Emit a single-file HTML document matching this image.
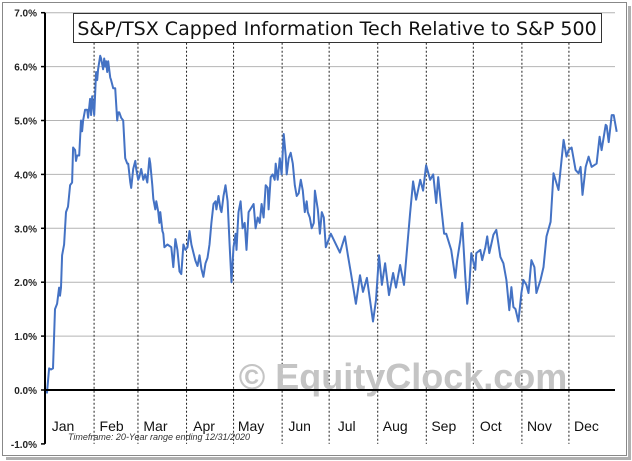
<!DOCTYPE html>
<html><head><meta charset="utf-8"><style>
body{margin:0;background:#fff;}
svg{display:block;font-family:"Liberation Sans",sans-serif;}
</style></head><body>
<svg id="chart" width="632" height="461">
<rect x="628" y="6" width="3" height="452" fill="#b0b0b0"/>
<rect x="6" y="457" width="625" height="3" fill="#b0b0b0"/>
<rect x="2.5" y="2.5" width="624" height="453" fill="#fff" stroke="#888"/>
<g id="grid"></g>
<g id="months"></g>
<text x="403" y="389" text-anchor="middle" font-size="36" font-weight="bold" fill="#c4c4c4">© EquityClock.com</text>
<g id="series"></g>
<g id="axes"></g>
<rect x="73.5" y="13.5" width="528" height="29" fill="#fff" stroke="#333"/>
<text x="337" y="35" text-anchor="middle" font-size="19" font-family="DejaVu Sans, sans-serif" fill="#111">S&amp;P/TSX Capped Information Tech Relative to S&amp;P 500</text>
<text x="68" y="440" font-size="9" font-style="italic" fill="#333">Timeframe: 20-Year range ending 12/31/2020</text>
</svg>
<script>
const yTicks=[-1,0,1,2,3,4,5,6,7];
const yTickLabels=["-1.0%","0.0%","1.0%","2.0%","3.0%","4.0%","5.0%","6.0%","7.0%"];
const monthNames=["Jan","Feb","Mar","Apr","May","Jun","Jul","Aug","Sep","Oct","Nov","Dec"];
const monthStarts=[0,31,59,90,120,151,181,212,243,273,304,334,365];
const days=[0,1.3,2.6,3.8,5.1,6.4,7.7,9.0,9.6,10.2,10.9,12.2,13.4,14.7,16.0,17.3,17.9,19.2,19.8,20.5,21.8,23.0,23.7,24.3,25.6,26.9,27.5,28.8,29.4,30.1,31.4,32.6,33.3,33.9,35.2,35.8,37.1,37.8,38.4,39.0,39.7,40.3,41.6,42.2,43.5,44.8,46.1,46.7,47.4,48.6,49.9,51.2,52.5,53.1,54.4,55.0,56.3,57.6,58.2,59.5,60.2,61.4,62.7,64.0,65.3,66.6,67.2,68.5,69.1,70.4,71.0,72.3,73.0,73.6,74.9,75.5,76.2,78.1,80.6,81.9,83.2,84.5,85.8,87.0,88.3,89.6,90.9,92.2,93.4,94.7,96.0,97.3,98.6,99.8,101.1,102.4,103.7,105.0,106.2,107.5,108.8,109.4,110.7,112.0,112.6,113.9,115.2,116.5,117.8,119.0,120.3,121.6,122.2,122.9,123.5,124.8,126.1,127.4,128.6,129.9,133.1,134.4,135.7,137.0,138.2,139.5,140.8,142.1,142.7,144.0,145.3,146.6,147.2,148.5,149.8,151.0,152.3,153.6,154.2,155.5,156.8,158.1,159.4,160.6,161.9,163.2,164.5,165.8,167.0,167.7,169.0,170.2,171.5,172.2,174.1,175.4,176.6,177.9,179.2,182.4,188.2,191.4,193.3,195.2,198.4,201.0,202.9,205.4,207.4,209.3,211.2,213.1,215.0,217.0,219.5,222.1,224.0,226.6,229.1,231.7,233.0,234.9,236.8,239.4,241.3,243.2,245.8,247.7,249.6,250.9,252.8,254.7,256.0,259.2,261.8,263.0,265.0,266.2,268.2,269.4,270.7,272.0,274.6,275.2,277.8,279.0,281.0,282.2,283.5,286.1,288.0,290.6,292.5,294.4,296.3,297.6,298.9,300.2,302.1,304.0,305.3,307.2,308.5,310.4,312.3,313.6,316.2,318.1,320.0,322.6,324.5,327.7,330.9,332.8,334.1,336.0,338.6,340.5,341.8,343.0,345.0,346.9,348.8,352.0,353.9,355.2,357.8,358.4,359.7,361.6,362.9,364.8];
const values=[0,-0.05,0.4,0.38,0.4,1.5,1.6,1.9,1.75,1.9,2.5,2.7,3.3,3.4,3.8,3.85,4.5,4.45,4.25,4.35,4.35,5.0,4.8,5.0,5.2,5.2,5.05,5.4,5.1,5.45,5.1,5.9,5.75,5.95,6.2,6.15,5.95,6.15,6.0,6.1,5.9,6.1,5.8,5.75,5.6,5.6,5.0,5.15,5.15,5.05,5.0,4.3,4.2,4.2,3.85,3.75,4.1,4.25,4.1,3.9,3.95,4.1,3.9,4.0,3.85,4.3,4.2,3.8,3.55,3.35,3.5,3.3,3.1,3.3,2.95,2.9,2.65,2.7,2.65,2.28,2.8,2.6,2.2,2.15,2.7,2.6,2.65,2.95,2.7,2.55,2.4,2.3,2.5,2.25,2.1,2.35,2.45,2.7,3.1,3.45,3.5,3.35,3.6,3.35,3.3,3.6,3.8,3.5,2.7,2.0,2.65,2.9,2.6,3.0,3.3,3.5,3.0,3.1,2.6,3.3,3.45,3.0,3.2,3.1,3.45,3.2,3.8,3.75,3.35,3.95,4.0,3.9,4.2,3.9,4.3,4.0,4.75,4.35,4.0,4.3,4.4,4.2,3.8,3.6,3.65,3.9,3.7,3.3,3.5,3.3,3.2,3.0,3.1,3.7,3.35,2.9,3.3,3.2,2.65,2.9,2.55,2.85,2.5,2.17,1.6,2.13,1.82,2.08,1.67,1.27,1.67,2.5,1.95,2.35,1.76,2.17,1.9,2.32,1.95,2.85,3.28,3.87,3.53,3.9,3.7,4.17,3.9,4.0,3.47,3.95,3.4,2.9,2.9,2.6,2.08,2.41,2.78,3.1,2.1,1.6,1.9,2.54,2.23,2.54,2.6,2.41,2.65,2.85,2.54,2.88,2.97,2.47,2.35,2.04,1.48,1.91,1.54,1.5,1.27,1.8,2.04,1.95,1.8,2.41,2.28,1.8,2.04,2.28,2.85,3.12,4.02,3.71,4.64,4.33,4.45,4.5,4.08,4.02,4.14,3.62,4.14,4.33,4.14,4.2,4.7,4.45,4.92,4.9,4.6,5.1,5.1,4.79];
const NS="http://www.w3.org/2000/svg";
const X0=45,X1=617,Y0=390,PX=53.9;
function xs(d){return X0+d/365*(X1-X0);}
function ys(v){return Y0-v*PX;}
function mk(tag,attrs,parent){const e=document.createElementNS(NS,tag);for(const k in attrs)e.setAttribute(k,attrs[k]);parent.appendChild(e);return e;}
const grid=document.getElementById('grid'),mg=document.getElementById('months'),ax=document.getElementById('axes'),sg=document.getElementById('series');
yTicks.forEach((t,i)=>{
  if(t>-1&&t!==0){const l=mk('line',{x1:X0,x2:615,y1:ys(t),y2:ys(t),stroke:'#b4b4b4','stroke-width':1},grid);
  
  }
  const tx=mk('text',{x:37,y:ys(t)+4,'text-anchor':'end','font-size':10,'font-weight':'bold',fill:'#222'},ax);
  tx.textContent=yTickLabels[i];
  
  
  const tk=mk('line',{x1:X0-4,x2:X0,y1:ys(t),y2:ys(t),stroke:'#000','stroke-width':1.5},ax);
  
  
});
monthStarts.forEach((d,i)=>{
  if(i>0&&i<12){const l=mk('line',{x1:xs(d)+0.5,x2:xs(d)+0.5,y1:ys(7)+30,y2:ys(-1),stroke:'#222','stroke-width':1,'stroke-dasharray':'2,2'},mg);
  
  }
  if(i<12){const tx=mk('text',{x:xs(d)+18,y:431,'text-anchor':'middle','font-size':14,fill:'#111'},ax);
  tx.textContent=monthNames[i];
  
  }
});
const ya=mk('line',{x1:X0,x2:X0,y1:ys(7),y2:ys(-1),stroke:'#000','stroke-width':2},ax);


const xa=mk('line',{x1:X0,x2:615,y1:ys(0),y2:ys(0),stroke:'#000','stroke-width':2},ax);


const pts=days.map((d,i)=>xs(d).toFixed(1)+','+ys(values[i]).toFixed(1)).join(' ');
const pl=mk('polyline',{points:pts,fill:'none',stroke:'#4472c4','stroke-width':2,'stroke-linejoin':'round'},sg);


</script>
</body></html>
